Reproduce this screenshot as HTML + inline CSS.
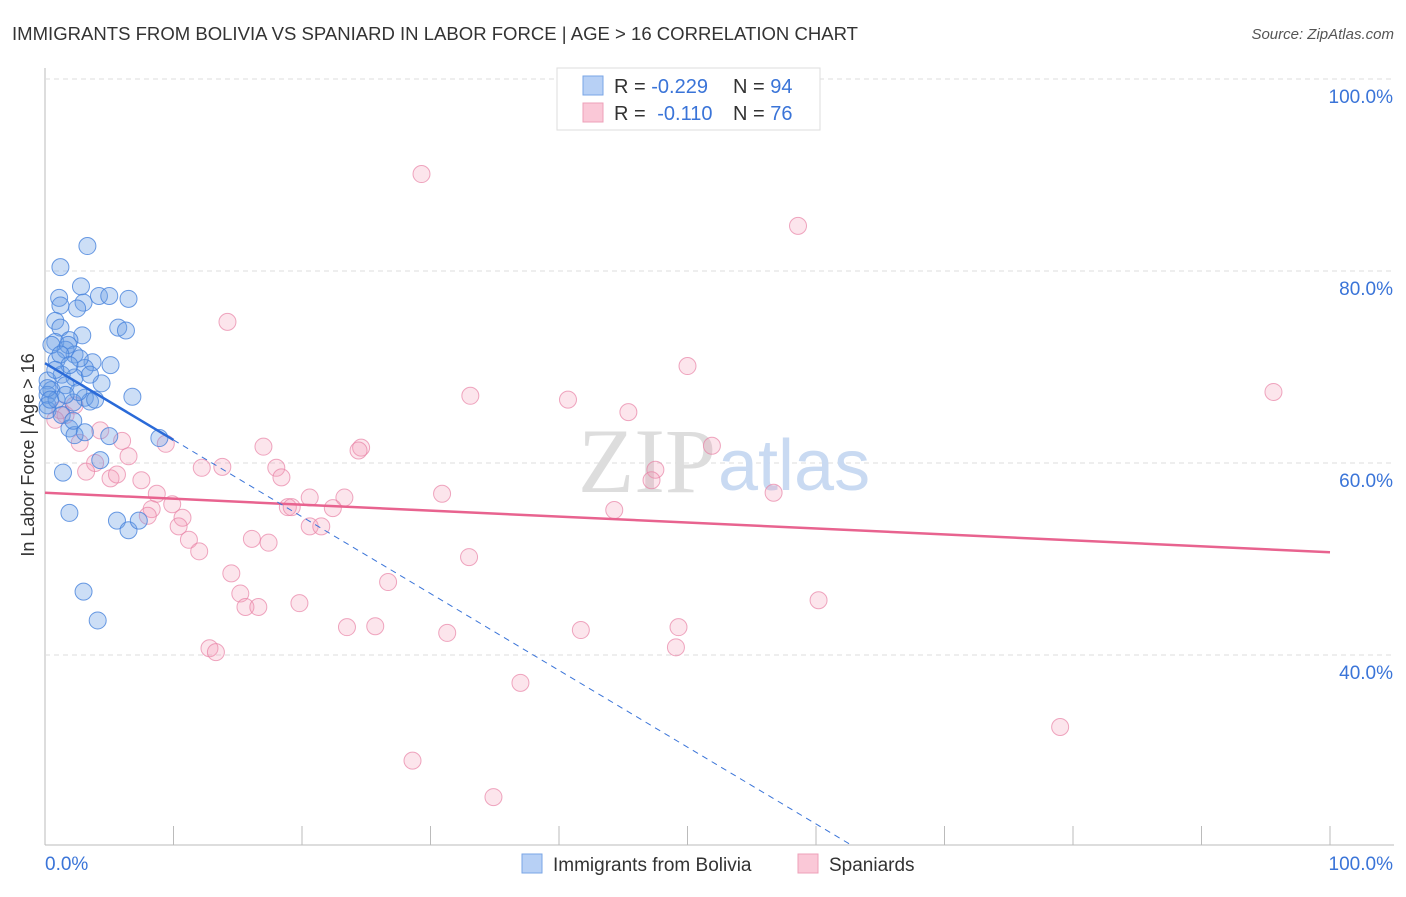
<!DOCTYPE html>
<html><head><meta charset="utf-8"><style>
body{margin:0;background:#fff;font-family:"Liberation Sans",sans-serif;}
</style></head><body>
<svg id="c" width="1406" height="892" xmlns="http://www.w3.org/2000/svg" style="font-family:'Liberation Sans',sans-serif">
<text x="12" y="40" font-size="18" fill="#333" textLength="846" lengthAdjust="spacingAndGlyphs">IMMIGRANTS FROM BOLIVIA VS SPANIARD IN LABOR FORCE | AGE &gt; 16 CORRELATION CHART</text>
<text x="1394" y="39" font-size="15" fill="#555" font-style="italic" text-anchor="end">Source: ZipAtlas.com</text>
<text x="34" y="455" font-size="18" fill="#333" transform="rotate(-90 34 455)" text-anchor="middle">In Labor Force | Age &gt; 16</text>
<g id="grid"></g>
<text x="716" y="492" font-size="92" fill="#ddd" text-anchor="end" font-family="Liberation Serif">ZIP</text>
<text x="718" y="490" font-size="72" fill="#c9daf2">atlas</text>
<g id="pts"></g>
<g id="lines"></g>
<g>
<rect x="557" y="68" width="263" height="62" fill="#fff" stroke="#ddd"/>
<rect x="583" y="76" width="20" height="19" fill="#b7d0f5" stroke="#7aa6e6"/>
<rect x="583" y="103" width="20" height="19" fill="#fac8d7" stroke="#eea0b8"/>
<text x="614" y="93" font-size="20" fill="#333">R = <tspan fill="#3a74d8">-0.229</tspan><tspan x="733">N = </tspan><tspan fill="#3a74d8">94</tspan></text>
<text x="614" y="120" font-size="20" fill="#333">R = <tspan fill="#3a74d8" dx="6">-0.110</tspan><tspan x="733">N = </tspan><tspan fill="#3a74d8">76</tspan></text>
</g>
<g>
<rect x="522" y="854" width="20" height="19" fill="#b7d0f5" stroke="#7aa6e6"/>
<text x="553" y="871" font-size="19" fill="#333">Immigrants from Bolivia</text>
<rect x="798" y="854" width="20" height="19" fill="#fac8d7" stroke="#eea0b8"/>
<text x="829" y="871" font-size="19" fill="#333">Spaniards</text>
</g>
</svg>
<script>
const blueX=[3.3,1.2,2.8,1.1,4.2,5.0,6.5,3.0,1.2,2.5,0.8,5.7,6.3,1.2,2.9,0.8,1.9,1.6,2.3,0.9,3.7,3.1,1.3,0.2,2.3,4.4,0.5,0.2,6.8,3.1,3.5,2.2,0.2,0.2,1.3,1.9,2.3,3.1,5.0,8.9,4.3,1.4,1.9,5.6,6.5,7.3,3.0,4.1,0.5,1.8,1.2,2.7,1.9,0.8,3.5,1.6,2.6,3.9,0.9,1.6,5.1,0.2,0.4,2.2];
const blueY=[82.6,80.4,78.4,77.2,77.4,77.4,77.1,76.7,76.4,76.1,74.8,74.1,73.8,74.1,73.3,72.6,72.8,71.8,71.3,70.7,70.5,69.9,69.2,68.6,68.9,68.3,67.6,67.1,66.9,66.8,66.4,66.3,66.0,65.5,65.0,63.6,62.9,63.2,62.8,62.6,60.3,59.0,54.8,54.0,53.0,54.0,46.6,43.6,72.3,72.3,71.3,70.9,70.2,69.7,69.2,68.1,67.4,66.6,66.6,67.1,70.2,67.8,66.6,64.4];
const pinkX=[29.3,58.6,14.2,50.0,95.6,33.1,40.7,45.4,51.9,17.0,24.6,24.4,9.4,6.0,6.5,3.9,5.1,3.2,5.6,7.5,12.2,13.8,18.0,18.4,47.5,47.2,30.9,56.7,8.7,9.9,8.3,20.6,23.3,18.9,19.2,22.4,44.3,8.0,10.7,10.4,20.6,21.5,11.2,16.1,17.4,12.0,33.0,14.5,26.7,15.2,15.6,16.6,19.8,60.2,23.5,25.7,31.3,41.7,49.3,49.1,12.8,13.3,37.0,79.0,28.6,34.9,1.2,1.6,2.3,2.7,0.8,4.3];
const pinkY=[90.1,84.7,74.7,70.1,67.4,67.0,66.6,65.3,61.8,61.7,61.6,61.3,62.0,62.3,60.7,60.0,58.4,59.1,58.8,58.2,59.5,59.6,59.5,58.5,59.3,58.2,56.8,56.9,56.8,55.7,55.2,56.4,56.4,55.4,55.4,55.3,55.1,54.5,54.3,53.4,53.4,53.4,52.0,52.1,51.7,50.8,50.2,48.5,47.6,46.4,45.0,45.0,45.4,45.7,42.9,43.0,42.3,42.6,42.9,40.8,40.7,40.3,37.1,32.5,29.0,25.2,65.5,65.0,66.0,62.1,64.5,63.4];
const yTicks=[100,80,60,40];
const yTickLabels=["100.0%","80.0%","60.0%","40.0%"];
const blueTrend=[70.4,-0.80];
const pinkTrend=[56.9,-0.062];
const NS="http://www.w3.org/2000/svg";
const X=v=>45+v*12.85, Y=v=>79+(100-v)*9.6;
function mk(t,a,p){const e=document.createElementNS(NS,t);for(const k in a)e.setAttribute(k,a[k]);p.appendChild(e);return e;}
const g=document.getElementById('grid');
mk('line',{x1:45,y1:68,x2:45,y2:845,stroke:'#bbb'},g);
mk('line',{x1:45,y1:845,x2:1394,y2:845,stroke:'#bbb'},g);
for(let i=0;i<yTicks.length;i++){
 const l=mk('line',{x1:45,y1:Y(yTicks[i]),x2:1394,y2:Y(yTicks[i]),stroke:'#ddd','stroke-dasharray':'5,4'},g);
 
 
 const t=mk('text',{x:1393,y:Y(yTicks[i])+24,'font-size':19,fill:'#3a74d8','text-anchor':'end'},g);
 t.textContent=yTickLabels[i];
 
 
}
for(let i=1;i<=10;i++){
 const l=mk('line',{x1:X(i*10),y1:826,x2:X(i*10),y2:845,stroke:'#bbb'},g);
 
 
}
const t0=mk('text',{x:45,y:870,'font-size':19,fill:'#3a74d8'},g);t0.textContent='0.0%';


const t1=mk('text',{x:1393,y:870,'font-size':19,fill:'#3a74d8','text-anchor':'end'},g);t1.textContent='100.0%';


const p=document.getElementById('pts');
for(let i=0;i<pinkX.length;i++){
 const c=mk('circle',{cx:X(pinkX[i]),cy:Y(pinkY[i]),r:8.5,fill:'rgba(244,150,180,0.25)',stroke:'rgba(232,130,165,0.7)','stroke-width':1},p);
 
 
}
for(let i=0;i<blueX.length;i++){
 const c=mk('circle',{cx:X(blueX[i]),cy:Y(blueY[i]),r:8.5,fill:'rgba(110,160,230,0.35)',stroke:'rgba(70,130,220,0.8)','stroke-width':1},p);
 
 
}
const L=document.getElementById('lines');
const pl=mk('line',{x1:X(0),y1:Y(pinkTrend[0]),x2:X(100),y2:Y(pinkTrend[0]+pinkTrend[1]*100),stroke:'#e8638f','stroke-width':2.5},L);


const xe=(20.2-blueTrend[0])/blueTrend[1];
const bd=mk('line',{x1:X(10),y1:Y(blueTrend[0]+blueTrend[1]*10),x2:X(xe),y2:Y(20.2),stroke:'#3a74d8','stroke-width':1,'stroke-dasharray':'6,5'},L);


const bl=mk('line',{x1:X(0),y1:Y(blueTrend[0]),x2:X(10),y2:Y(blueTrend[0]+blueTrend[1]*10),stroke:'#2a6ad8','stroke-width':2.5},L);


</script>
</body></html>
